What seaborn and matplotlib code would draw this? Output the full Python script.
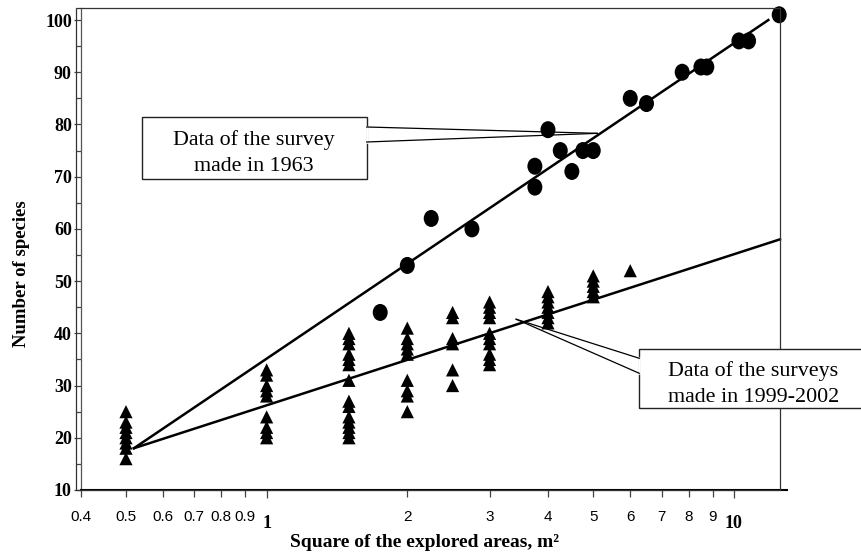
import matplotlib
matplotlib.use("Agg")
import matplotlib.pyplot as plt
import seaborn as sns
import pandas as pd
from matplotlib.path import Path
from matplotlib.markers import MarkerStyle
from matplotlib.transforms import Affine2D
from matplotlib.ticker import FixedLocator, FixedFormatter, NullFormatter
from matplotlib.patches import Rectangle
from matplotlib.lines import Line2D

# survey of 1963 (circles)
area_1963 = [1.75, 2, 2.25, 2.75, 3.75, 3.75, 4, 4.25, 4.5, 4.75, 5,
             6, 6.5, 7.75, 8.5, 8.75, 10.25, 10.75, 12.5]
species_1963 = [44, 53, 62, 60, 68, 72, 79, 75, 71, 75, 75,
                85, 84, 90, 91, 91, 96, 96, 101]

# surveys of 1999-2002 (triangles), species counts for each plot size
area_9902 = [0.5, 1, 1.5, 2, 2.5, 3, 4, 5, 6]
species_9902 = [
    [16, 18, 19, 20, 21, 22, 23, 25],
    [20, 21, 22, 24, 28, 29, 30, 32, 33],
    [20, 21, 22, 23, 24, 26, 27, 31, 34, 35, 36, 38, 39, 40],
    [25, 28, 29, 31, 36, 37, 38, 39, 41],
    [30, 33, 38, 39, 43, 44],
    [34, 35, 36, 38, 39, 40, 43, 44, 45, 46],
    [42, 43, 44, 45, 46, 47, 48],
    [47, 48, 49, 50, 51],
    [52],
]

# trend lines (end points)
fit_area_1963 = [0.52, 11.85]
fit_species_1963 = [18.0, 100.0]
fit_area_9902 = [0.52, 12.55]
fit_species_9902 = [18.0, 58.0]

x_major = [1, 10]
x_major_labels = ["1", "10"]
x_minor = [0.4, 0.5, 0.6, 0.7, 0.8, 0.9, 2, 3, 4, 5, 6, 7, 8, 9]
x_minor_labels = ["0.4", "0.5", "0.6", "0.7", "0.8", "0.9",
                  "2", "3", "4", "5", "6", "7", "8", "9"]
y_major = [10, 20, 30, 40, 50, 60, 70, 80, 90, 100]
y_minor = [15, 25, 35, 45, 55, 65, 75, 85, 95]

callout_1963 = ["Data of the survey", "made in 1963"]
callout_9902 = ["Data of the surveys", "made in 1999-2002"]
tip_1963 = (5.1, 78.3)
tip_9902 = (3.42, 42.7)

plt.rcParams["font.family"] = ["Liberation Serif", "DejaVu Serif"]
SANS = ["Liberation Sans Narrow", "Liberation Sans", "DejaVu Sans"]
SERIF = ["Liberation Serif", "DejaVu Serif"]

df_1963 = pd.DataFrame({"area": area_1963, "species": species_1963})
rows = []
for a, vals in zip(area_9902, species_9902):
    for v in vals:
        rows.append((a, v))
df_9902 = pd.DataFrame(rows, columns=["area", "species"])

W, H = 862, 558
fig = plt.figure(figsize=(W / 100, H / 100), dpi=100)


def px(x, y):
    """pixel (from top-left) -> figure fraction"""
    return (x / W, 1 - y / H)


# axes: x 0.4 at px 80.7, right end px 787, y 10 at px 490, top px 8
ax = fig.add_axes([80.7 / W, 1 - 490 / H, (787 - 80.7) / W, (490 - 8) / H])
ax.set_xscale("log")
ax.set_xlim(0.4, 12.99)
ax.set_ylim(10, 102.3)

ellipse = Path.unit_circle().transformed(Affine2D().scale(0.88, 1.0))
sns.scatterplot(data=df_1963, x="area", y="species", marker=MarkerStyle(ellipse),
                s=150, color="black", edgecolor="none", zorder=3,
                clip_on=False, legend=False, ax=ax)
sns.scatterplot(data=df_9902, x="area", y="species", marker="^",
                s=90, color="black", edgecolor="none", zorder=3,
                legend=False, ax=ax)
sns.lineplot(x=fit_area_1963, y=fit_species_1963, color="black",
             linewidth=1.8, ax=ax)
sns.lineplot(x=fit_area_9902, y=fit_species_9902, color="black",
             linewidth=1.8, ax=ax)

# spines
for s in ["top", "right"]:
    ax.spines[s].set_visible(False)
ax.spines["left"].set_color("#555555")
ax.spines["left"].set_linewidth(0.9)
ax.spines["bottom"].set_color("black")
ax.spines["bottom"].set_linewidth(1.5)

# x ticks
ax.xaxis.set_major_locator(FixedLocator(x_major))
ax.xaxis.set_major_formatter(FixedFormatter(x_major_labels))
ax.xaxis.set_minor_locator(FixedLocator(x_minor))
ax.xaxis.set_minor_formatter(FixedFormatter(x_minor_labels))
ax.tick_params(axis="x", which="major", direction="out", length=5.8,
               width=0.9, color="#444444", pad=12.2, labelsize=13)
ax.tick_params(axis="x", which="minor", direction="out", length=4.7,
               width=0.9, color="#444444", pad=9.5, labelsize=11)
for lbl in ax.get_xticklabels(which="major"):
    lbl.set_fontfamily(SERIF)
    lbl.set_fontweight("bold")
for lbl in ax.get_xticklabels(which="minor"):
    lbl.set_fontfamily(SANS)

# y ticks
ax.yaxis.set_major_locator(FixedLocator(y_major))
ax.yaxis.set_minor_locator(FixedLocator(y_minor))
ax.yaxis.set_minor_formatter(NullFormatter())
ax.tick_params(axis="y", which="major", direction="out", length=5,
               width=0.9, color="#444444", pad=1.4, labelsize=13)
ax.tick_params(axis="y", which="minor", direction="out", length=3.5,
               width=0.9, color="#444444")
for lbl in ax.get_yticklabels():
    lbl.set_fontweight("bold")

ax.set_xlabel("Square of the explored areas, m\u00b2", fontsize=14,
              fontweight="bold")
ax.xaxis.set_label_coords(0.487, -0.108)
ax.xaxis.label.set_va("center")
ax.set_ylabel("Number of species", fontsize=13.5, fontweight="bold")
ax.yaxis.set_label_coords(-0.0845, 0.449)
ax.yaxis.label.set_va("center")

# outer frame of the plot area
x0, y0 = px(76, 490)
x1, y1 = px(780, 8)
fig.add_artist(Rectangle((x0, y0), x1 - x0, y1 - y0, transform=fig.transFigure,
                         fill=False, ec="#333333", lw=0.9, zorder=1))


def callout(box, base, tip, lines, baselines, cx):
    bx0, by0 = px(box[0], box[3])
    bx1, by1 = px(box[2], box[1])
    fig.add_artist(Rectangle((bx0, by0), bx1 - bx0, by1 - by0,
                             transform=fig.transFigure, fc="white",
                             ec="#222222", lw=1.0, zorder=4))
    tx, ty = fig.transFigure.inverted().transform(ax.transData.transform(tip))
    p1 = px(base[0], base[1])
    p2 = px(base[0], base[2])
    fig.add_artist(Line2D([p1[0], p2[0]], [p1[1], p2[1]], transform=fig.transFigure,
                          color="white", lw=1.8, zorder=5))
    for p in (p1, p2):
        fig.add_artist(Line2D([p[0], tx], [p[1], ty], transform=fig.transFigure,
                              color="black", lw=0.9, zorder=5))
    for line, b in zip(lines, baselines):
        fx, fy = px(cx, b)
        fig.text(fx, fy, line, ha="center", va="baseline", fontsize=15.8,
                 family=SERIF, zorder=6)


callout((141.7, 117.3, 366.7, 179.0), (366.7, 127.0, 142.0), tip_1963,
        callout_1963, (145.0, 171.0), 254.2)
callout((639.3, 349.3, 868.0, 408.3), (639.3, 358.3, 373.3), tip_9902,
        callout_9902, (376.0, 402.5), 753.5)

fig.savefig("out.png", dpi=100)
